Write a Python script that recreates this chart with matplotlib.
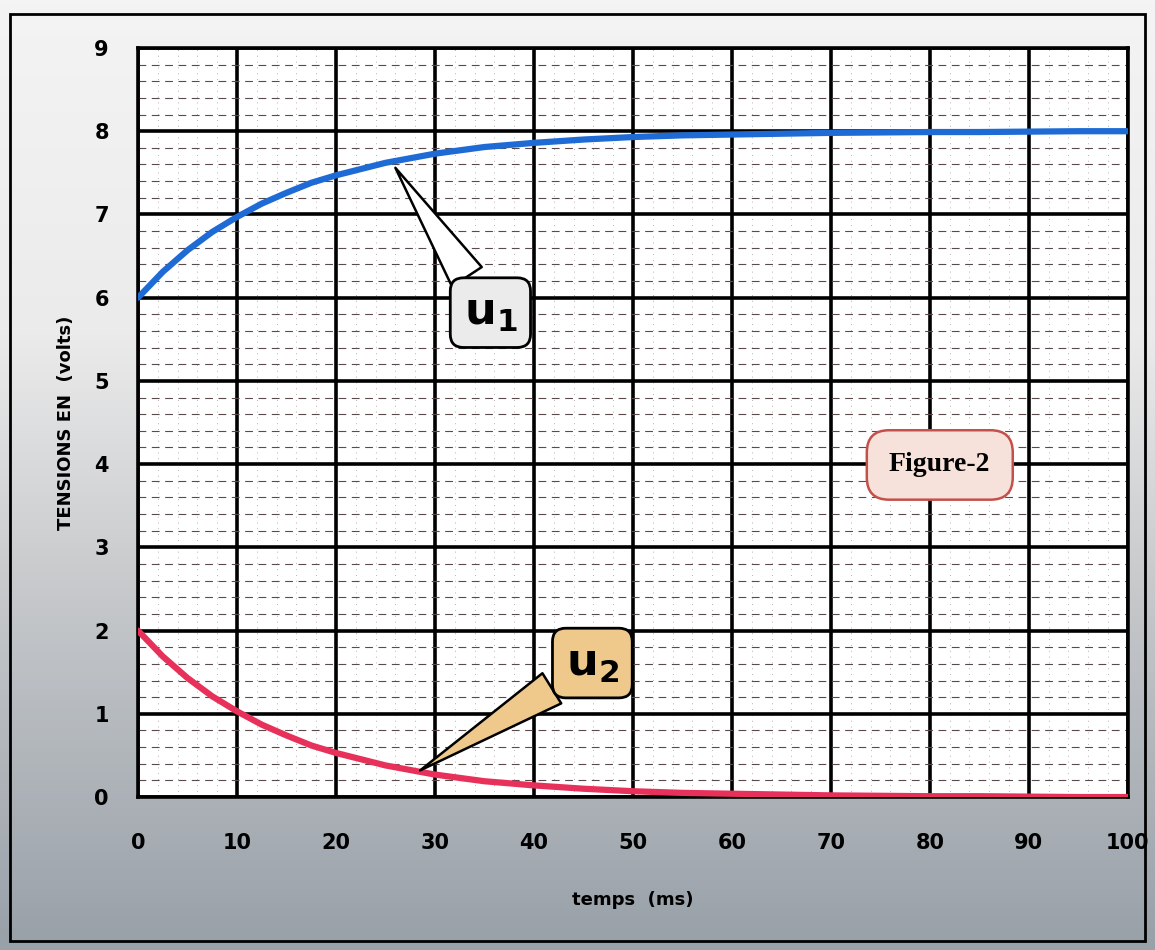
import numpy as np
import matplotlib.pyplot as plt
from matplotlib.patches import Rectangle
from matplotlib.colors import LinearSegmentedColormap

# values (time in ms, voltages in V)
t = [0, 2.5, 5, 7.5, 10, 12.5, 15, 17.5, 20, 25, 30, 35, 40, 45, 50,
     55, 60, 65, 70, 75, 80, 85, 90, 95, 100]
u1 = [6.0, 6.31, 6.57, 6.79, 6.97, 7.13, 7.26, 7.38, 7.47, 7.62, 7.73, 7.81,
      7.86, 7.90, 7.93, 7.95, 7.96, 7.97, 7.98, 7.985, 7.99, 7.99, 7.995, 8.0, 8.0]
u2 = [2.0, 1.69, 1.43, 1.21, 1.03, 0.87, 0.74, 0.62, 0.53, 0.38, 0.27, 0.19,
      0.14, 0.10, 0.07, 0.05, 0.04, 0.03, 0.02, 0.015, 0.01, 0.01, 0.005, 0.0, 0.0]
xticks = [0, 10, 20, 30, 40, 50, 60, 70, 80, 90, 100]
yticks = [0, 1, 2, 3, 4, 5, 6, 7, 8, 9]

fig = plt.figure(figsize=(11.55, 9.5), dpi=100)

# paper / photo background: white at the top, grey at the bottom
bg = fig.add_axes([0, 0, 1, 1], zorder=-5)
paper = LinearSegmentedColormap.from_list(
    'paper', [(0, '#f4f4f4'), (0.35, '#ebebeb'), (0.6, '#c9cbcd'), (1, '#98a0a8')])
grad = np.linspace(0, 1, 256).reshape(-1, 1)
bg.imshow(grad, aspect='auto', cmap=paper, extent=[0, 1, 0, 1], origin='upper')
bg.axis('off')
fig.patches.append(Rectangle((0.009, 0.01), 0.982, 0.975, transform=fig.transFigure,
                             fill=False, ec='black', lw=2))

ax = fig.add_axes([0.1195, 0.161, 0.857, 0.7885])
ax.set_facecolor('white')

ax.plot(t, u1, color='#1f6bd6', lw=4.5, solid_capstyle='round', zorder=5)
ax.plot(t, u2, color='#e8315a', lw=4.5, solid_capstyle='round', zorder=5)

ax.set_xlim(0, 100)
ax.set_ylim(0, 9)
ax.set_xticks(xticks)
ax.set_yticks(yticks)
ax.set_xticks(np.arange(0, 101, 2), minor=True)
ax.set_yticks(np.arange(0, 9.01, 0.2), minor=True)
ax.grid(which='major', color='black', lw=2.6)
ax.grid(which='minor', axis='y', color='#5a4a4a', lw=0.8, ls=(0, (7, 5)))
ax.grid(which='minor', axis='x', color='#a09898', lw=0.6, ls=(0, (1, 6)))
for s in ax.spines.values():
    s.set_linewidth(2.6)
ax.tick_params(which='both', length=0)
ax.tick_params(axis='x', pad=26)
ax.tick_params(axis='y', pad=21)
for lab in ax.get_xticklabels() + ax.get_yticklabels():
    lab.set_fontsize(15)
    lab.set_fontweight('bold')

ax.set_xlabel('temps  (ms)', fontsize=13, fontweight='bold', labelpad=27)
ax.set_ylabel('TENSIONS EN  (volts)', fontsize=13, fontweight='bold', labelpad=14)

# callouts
ax.annotate(r'$\mathbf{u_1}$', xy=(26, 7.56), xytext=(35.6, 5.82),
            fontsize=32, ha='center', va='center', zorder=8,
            bbox=dict(boxstyle='round,pad=0.3', fc='#ebebeb', ec='black', lw=2),
            arrowprops=dict(arrowstyle='wedge,tail_width=0.8', fc='white',
                            ec='black', lw=1.8, shrinkA=0, shrinkB=0))
ax.annotate(r'$\mathbf{u_2}$', xy=(28.5, 0.32), xytext=(45.9, 1.61),
            fontsize=32, ha='center', va='center', zorder=8,
            bbox=dict(boxstyle='round,pad=0.3', fc='#efc98c', ec='black', lw=2),
            arrowprops=dict(arrowstyle='wedge,tail_width=0.8', fc='#efc98c',
                            ec='black', lw=1.8, shrinkA=0, shrinkB=0))
ax.text(81, 3.99, 'Figure-2', fontsize=20, fontweight='bold',
        family='Liberation Serif', ha='center', va='center', zorder=8,
        bbox=dict(boxstyle='round,pad=0.8', fc='#f6e2da', ec='#c4504a', lw=1.8))

fig.savefig('out.png', dpi=100)
